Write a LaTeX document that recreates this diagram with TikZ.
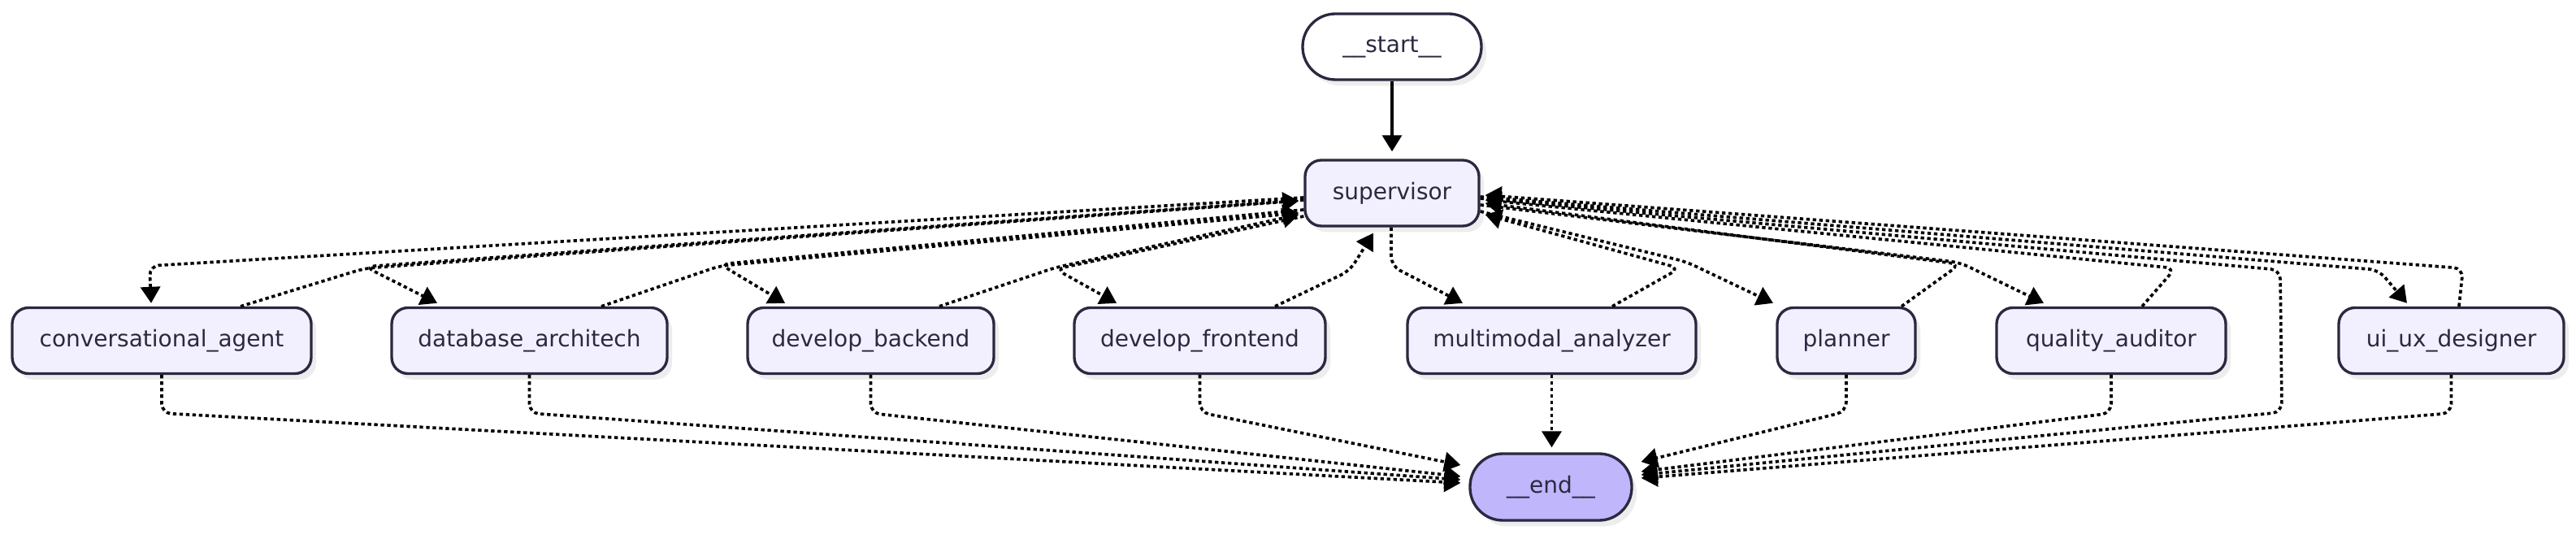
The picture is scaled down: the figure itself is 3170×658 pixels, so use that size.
\documentclass[tikz,border=0pt]{standalone}
\usepackage{fontspec}
\setmainfont{DejaVu Sans}
\usetikzlibrary{arrows.meta,shadows}
\definecolor{nodefill}{HTML}{F2F0FF}
\definecolor{endfill}{HTML}{BFB6FC}
\definecolor{ink}{HTML}{2A2940}
\definecolor{shadowc}{HTML}{EDEDED}
\begin{document}
\begin{tikzpicture}[x=0.3pt,y=-0.3pt,
  box/.style={draw=ink, line width=1pt, fill=nodefill, rounded corners=6pt,
    minimum height=24.3pt, inner sep=0pt, text=ink,
    font=\fontsize{8.4}{10}\selectfont,
    general shadow={fill=shadowc, shadow xshift=1.8pt, shadow yshift=-2.2pt}},
  term/.style={box, rounded corners=12.1pt},
  flow/.style={line width=1.1pt, dash pattern=on 1.3pt off 1.1pt,
    rounded corners=3.5pt, -{Triangle[length=6pt,width=7.2pt]}},
  solidflow/.style={line width=1pt, -{Triangle[length=6pt,width=7.2pt]}}
]
\fill[white] (0,0) rectangle (3170,658);
\useasboundingbox (0,0) rectangle (3170,658);

% nodes
\node[term, fill=white, minimum width=66pt] (start) at (1713,57.5) {\_\_start\_\_};
\node[box, minimum width=64.2pt] (sup) at (1713,237.5) {supervisor};
\node[box, minimum width=110.4pt] (conv) at (199,419) {conversational\_agent};
\node[box, minimum width=101.7pt] (db) at (651.5,419) {database\_architech};
\node[box, minimum width=90.9pt] (backend) at (1071.5,419) {develop\_backend};
\node[box, minimum width=92.7pt] (frontend) at (1476.5,419) {develop\_frontend};
\node[box, minimum width=106.5pt] (multi) at (1909.5,419) {multimodal\_analyzer};
\node[box, minimum width=51pt] (planner) at (2272,419) {planner};
\node[box, minimum width=84.6pt] (quality) at (2598,419) {quality\_auditor};
\node[box, minimum width=83.1pt] (uiux) at (3016.5,419) {ui\_ux\_designer};
\node[term, fill=endfill, minimum width=59.7pt, minimum height=24.6pt] (end) at (1908.5,599) {\_\_end\_\_};

% start -> supervisor
\draw[solidflow] (start.south) -- ([shift={(0,-9)}]sup.north);

% left group
\draw[flow] ([shift={(0,5.5)}]sup.west) -- (184,327) -- ([shift={(-13,-4)}]conv.north);
\draw[flow] ([shift={(97,0)}]conv.north) -- (449,330) -- ([shift={(-6,9.5)}]sup.west);
\draw[flow] ([shift={(0,8.5)}]sup.west) -- (449,328) -- ([shift={(-113.5,-4)}]db.north);
\draw[flow] ([shift={(88.5,0)}]db.north) -- (886,327) -- ([shift={(-6,24.5)}]sup.west);
\draw[flow] ([shift={(0,20.5)}]sup.west) -- (886,325) -- ([shift={(-105.5,-4)}]backend.north);
\draw[flow] ([shift={(84.5,0)}]backend.north) -- (1299,329) -- ([shift={(-6,26.5)}]sup.west);
\draw[flow] ([shift={(0,28.5)}]sup.west) -- (1299,331) -- ([shift={(-102.5,-4)}]frontend.north);
\draw[flow] ([shift={(92.5,0)}]frontend.north) -- (1661,333) -- ([shift={(-23,7)}]sup.south);

% right group
\draw[flow] ([shift={(-1,0)}]sup.south) -- (1712,327) -- ([shift={(-109.5,-4)}]multi.north);
\draw[flow] ([shift={(74.5,0)}]multi.north) -- (2067,330) -- ([shift={(6,26.5)}]sup.east);
\draw[flow] ([shift={(0,22.5)}]sup.east) -- (2075,322) -- ([shift={(-90,-4)}]planner.north);
\draw[flow] ([shift={(68,0)}]planner.north) -- (2412,325) -- ([shift={(6,12.5)}]sup.east);
\draw[flow] ([shift={(0,14.5)}]sup.east) -- (2412,323) -- ([shift={(-83,-4)}]quality.north);
\draw[flow] ([shift={(38,0)}]quality.north) -- (2677,330) -- ([shift={(6,8.5)}]sup.east);
\draw[flow] ([shift={(0,6.5)}]sup.east) -- (2806,332) -- (2808,507) -- ([shift={(10,-15)}]end.east);
\draw[flow] ([shift={(0,4.5)}]sup.east) -- (2927,332) -- ([shift={(-54.5,-4)}]uiux.north);
\draw[flow] ([shift={(9.5,0)}]uiux.north) -- (3031,330) -- ([shift={(6,2.5)}]sup.east);

% agents -> end
\draw[flow] (conv.south) -- ([shift={(0,47)}]conv.south) -- ([shift={(-10,-5)}]end.west);
\draw[flow] (db.south) -- ([shift={(0,47)}]db.south) -- ([shift={(-10,-9)}]end.west);
\draw[flow] (backend.south) -- ([shift={(0,47)}]backend.south) -- ([shift={(-10,-13)}]end.west);
\draw[flow] (frontend.south) -- ([shift={(0,46)}]frontend.south) -- ([shift={(-10,-27)}]end.west);
\draw[flow] (multi.south) -- ([shift={(1,-6)}]end.north);
\draw[flow] (planner.south) -- ([shift={(0,45)}]planner.south) -- ([shift={(10,-31)}]end.east);
\draw[flow] (quality.south) -- ([shift={(0,47)}]quality.south) -- ([shift={(10,-19)}]end.east);
\draw[flow] (uiux.south) -- ([shift={(0,47)}]uiux.south) -- ([shift={(10,-11)}]end.east);
\end{tikzpicture}
\end{document}
